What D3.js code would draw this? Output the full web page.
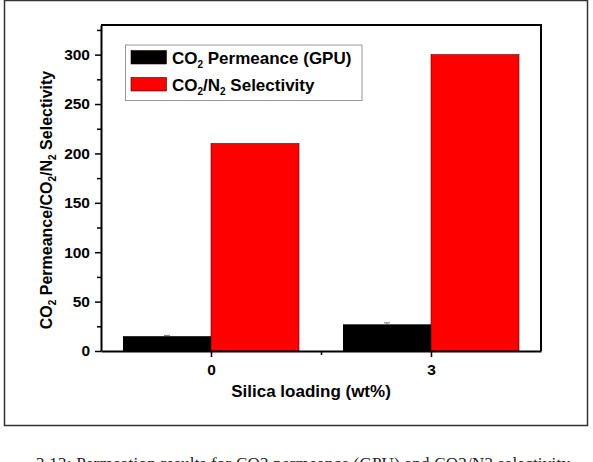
<!DOCTYPE html>
<html>
<head>
<meta charset="utf-8">
<script src="https://cdn.jsdelivr.net/npm/d3@7"></script>
<style>
  body { margin: 0; background: #fff; }
  svg text { font-family: "Liberation Sans", Arial, sans-serif; font-weight: bold; fill: #000; }
  svg text.caption { font-family: "Liberation Serif", "Times New Roman", serif; font-weight: normal; fill: #222; }
</style>
</head>
<body>
<svg width="593" height="462"></svg>
<script>
// data
const loadings = [0, 3];
const permeance = [15, 27];
const permeanceErr = [0.8, 1.5];
const selectivity = [210, 300];
const yTicks = [0, 50, 100, 150, 200, 250, 300];

const svg = d3.select('svg');
const width = +svg.attr('width');
const height = +svg.attr('height');

const margin = {left: 101, top: 25, right: 52, bottom: 111};
const innerWidth = width - margin.left - margin.right;
const innerHeight = height - margin.top - margin.bottom;

// outer frame of the figure
svg.append('rect')
  .attr('x', 4.5).attr('y', 0.5)
  .attr('width', 583).attr('height', 425)
  .attr('fill', 'none').attr('stroke', '#333').attr('stroke-width', 1.5);

const xScale = d3.scaleLinear().domain([-1.5, 4.5]).range([0, innerWidth]);
const yScale = d3.scaleLinear().domain([0, 330]).range([innerHeight, 0]);
const barW = xScale(1.2) - xScale(0);

const g = svg.append('g')
  .attr('transform', `translate(${margin.left}, ${margin.top})`);

// bars
g.selectAll('.perm').data(loadings).enter().append('rect')
  .attr('x', d => xScale(d) - barW)
  .attr('y', (d, i) => yScale(permeance[i]))
  .attr('width', barW)
  .attr('height', (d, i) => innerHeight - yScale(permeance[i]))
  .attr('fill', '#000');

g.selectAll('.sel').data(loadings).enter().append('rect')
  .attr('x', d => xScale(d))
  .attr('y', (d, i) => yScale(selectivity[i]))
  .attr('width', barW)
  .attr('height', (d, i) => innerHeight - yScale(selectivity[i]))
  .attr('fill', '#ff0000').attr('stroke', '#400').attr('stroke-width', 0.6);

// error caps
loadings.forEach((d, i) => {
  const cx = xScale(d) - barW / 2;
  const top = yScale(permeance[i] + permeanceErr[i]);
  g.append('line').attr('x1', cx).attr('x2', cx)
    .attr('y1', top).attr('y2', yScale(permeance[i]))
    .attr('stroke', '#777').attr('stroke-width', 1);
  g.append('line').attr('x1', cx - 3).attr('x2', cx + 3)
    .attr('y1', top).attr('y2', top)
    .attr('stroke', '#777').attr('stroke-width', 1);
});

// axes
const yMinor = d3.range(0, 331, 25).filter(v => v % 50 !== 0);
g.append('g').call(d3.axisLeft(yScale).tickValues(yMinor).tickSize(4).tickFormat(''))
  .call(a => a.select('.domain').remove())
  .selectAll('line').attr('stroke-width', 1.5);

const yaxis = g.append('g')
  .call(d3.axisLeft(yScale).tickValues(yTicks).tickSize(6).tickPadding(5).tickSizeOuter(0));
yaxis.selectAll('line').attr('stroke-width', 1.5);
yaxis.selectAll('text').attr('font-size', 15.5);
yaxis.select('.domain').attr('stroke-width', 2);

g.append('g').attr('transform', `translate(0, ${innerHeight})`)
  .call(d3.axisBottom(xScale).tickValues([1.5]).tickSize(4).tickFormat(''))
  .call(a => a.select('.domain').remove())
  .selectAll('line').attr('stroke-width', 1.5);

const xaxis = g.append('g').attr('transform', `translate(0, ${innerHeight})`)
  .call(d3.axisBottom(xScale).tickValues(loadings).tickFormat(d3.format('d'))
    .tickSize(6).tickPadding(7).tickSizeOuter(0));
xaxis.selectAll('line').attr('stroke-width', 1.5);
xaxis.selectAll('text').attr('font-size', 15.5);
xaxis.select('.domain').attr('stroke-width', 2);

// top and right frame
g.append('path')
  .attr('d', `M0,0H${innerWidth}V${innerHeight}`)
  .attr('fill', 'none').attr('stroke', '#000').attr('stroke-width', 2);

// axis titles
svg.append('text')
  .attr('x', 311).attr('y', 397)
  .attr('text-anchor', 'middle').attr('font-size', 17)
  .text('Silica loading (wt%)');

// text with subscripts: a sub part drops 4px, the next part comes back up
const subText = (sel, parts) => {
  let down = false;
  parts.forEach(p => {
    const ts = sel.append('tspan').text(p.t);
    if (p.sub) {
      ts.attr('font-size', 10).attr('dy', 4);
      down = true;
    } else if (down) {
      ts.attr('dy', -4);
      down = false;
    }
  });
};

const ytitle = svg.append('text')
  .attr('transform', 'translate(52, 200) rotate(-90)')
  .attr('text-anchor', 'middle').attr('font-size', 16);
subText(ytitle, [{t: 'CO'}, {t: '2', sub: true}, {t: ' Permeance/CO'}, {t: '2', sub: true},
  {t: '/N'}, {t: '2', sub: true}, {t: ' Selectivity'}]);

// legend
const lg = svg.append('g');
lg.append('rect').attr('x', 125.5).attr('y', 45).attr('width', 236.5).attr('height', 55.5)
  .attr('fill', '#fff').attr('stroke', '#999').attr('stroke-width', 1);
const legendItems = [
  {color: '#000', y: 50.5, parts: [{t: 'CO'}, {t: '2', sub: true}, {t: ' Permeance (GPU)'}]},
  {color: '#ff0000', y: 77.5, parts: [{t: 'CO'}, {t: '2', sub: true}, {t: '/N'}, {t: '2', sub: true}, {t: ' Selectivity'}]}
];
legendItems.forEach(it => {
  lg.append('rect').attr('x', 131).attr('y', it.y).attr('width', 35.5).attr('height', 13.5)
    .attr('fill', it.color).attr('stroke', '#300').attr('stroke-width', 0.6);
  const t = lg.append('text').attr('x', 172).attr('y', it.y + 13).attr('font-size', 17);
  subText(t, it.parts);
});

// caption, cut by the page edge as in the source figure
svg.append('text').attr('class', 'caption')
  .attr('x', 36).attr('y', 469)
  .attr('font-size', 17)
  .attr('textLength', 534)
  .text('3.13: Permeation results for CO2 permeance (GPU) and CO2/N2 selectivity');
</script>
</body>
</html>
